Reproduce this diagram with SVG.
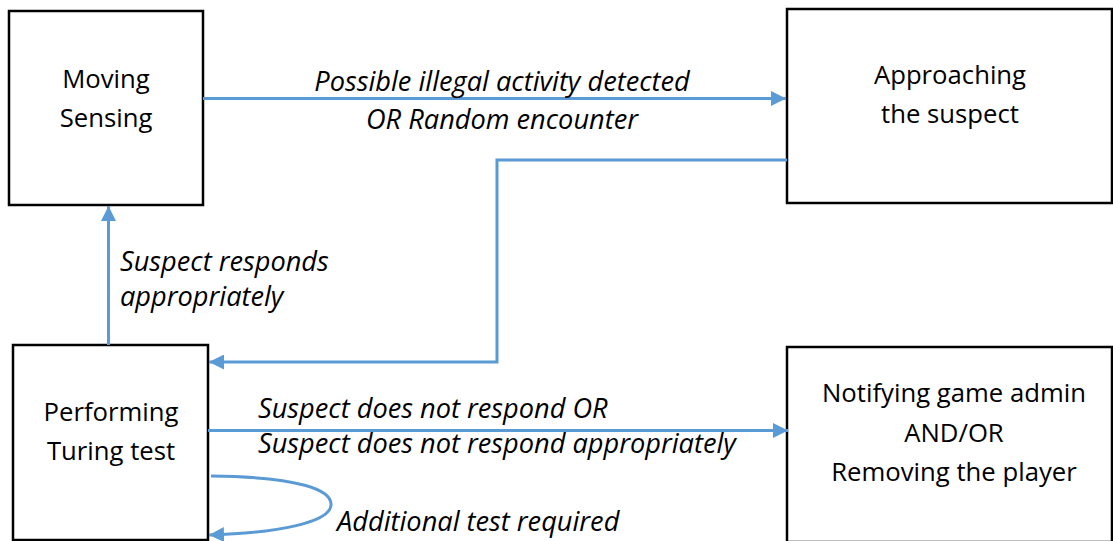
<svg xmlns="http://www.w3.org/2000/svg" width="1113" height="541" viewBox="0 0 1113 541">
<style>
.box{fill:#fff;stroke:#000;stroke-width:2.5}
.nt{font-family:"Open Sans","Noto Sans",sans-serif;font-size:25.7px;fill:#000;text-anchor:middle}
.lb{font-family:"Open Sans","Noto Sans",sans-serif;font-size:27.2px;font-style:italic;fill:#000}
.c{fill:none;stroke:#5B9BD5;stroke-width:3}
</style>
<defs>
<marker id="ah" viewBox="0 0 10 10" refX="10" refY="5" markerWidth="5" markerHeight="5" markerUnits="strokeWidth" orient="auto">
<path d="M0,0 L10,5 L0,10 z" fill="#5B9BD5"/>
</marker>
</defs>
<rect width="1113" height="541" fill="#fff"/>
<g id="n1"><rect class="box" x="9" y="11" width="194" height="194"/>
<text class="nt" x="106" y="88">Moving</text><text class="nt" x="106" y="127">Sensing</text></g>
<g id="n2"><rect class="box" x="787" y="9" width="325" height="194"/>
<text class="nt" x="950" y="84">Approaching</text><text class="nt" x="950" y="123">the suspect</text></g>
<g id="n3"><rect class="box" x="13" y="345" width="195" height="195"/>
<text class="nt" x="111" y="421">Performing</text><text class="nt" x="111" y="460">Turing test</text></g>
<g id="n4"><rect class="box" x="787" y="347" width="325" height="195"/>
<text class="nt" x="954" y="402">Notifying game admin</text><text class="nt" x="954" y="442">AND/OR</text><text class="nt" x="954" y="481">Removing the player</text></g>
<g id="connectors">
<path class="c" d="M203,98.5 H786" marker-end="url(#ah)"/>
<path class="c" d="M787,160 H497 V362 H209" marker-end="url(#ah)"/>
<path class="c" d="M108.5,345 V206" marker-end="url(#ah)"/>
<path class="c" d="M208,430.5 H788" marker-end="url(#ah)"/>
<path class="c" d="M211,476 C300,477 332,490 331,505 C330,522 280,533 209,535" marker-end="url(#ah)"/>
</g>
<g id="labels">
<text class="lb" x="502" y="91" text-anchor="middle">Possible illegal activity detected</text>
<text class="lb" x="502" y="129" text-anchor="middle">OR Random encounter</text>
<text class="lb" x="120" y="271">Suspect responds</text>
<text class="lb" x="120" y="306">appropriately</text>
<text class="lb" x="258" y="418">Suspect does not respond OR</text>
<text class="lb" x="258" y="453">Suspect does not respond appropriately</text>
<text class="lb" x="337" y="531">Additional test required</text>
</g>
</svg>
